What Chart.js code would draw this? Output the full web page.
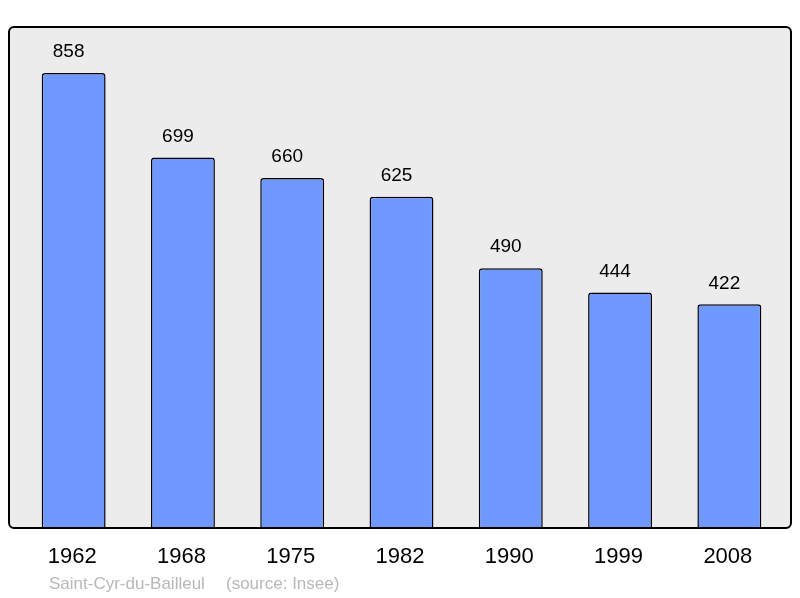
<!DOCTYPE html>
<html>
<head>
<meta charset="utf-8">
<script src="https://cdn.jsdelivr.net/npm/chart.js@4"></script>
<style>
  html, body { margin: 0; padding: 0; background: #fff; }
  #wrap { width: 800px; height: 598px; position: relative; }
</style>
</head>
<body>
<div id="wrap"><canvas id="chart-pop"></canvas></div>
<script>
// données
const annees = ['1962', '1968', '1975', '1982', '1990', '1999', '2008'];
const population = [858, 699, 660, 625, 490, 444, 422];
const commune = 'Saint-Cyr-du-Bailleul';
const source = '(source: Insee)';

const FONT = '"Liberation Sans", Arial, sans-serif';

// fond gris + cadre arrondi, étiquettes
const decor = {
  id: 'decor',
  beforeDraw(chart) {
    const ctx = chart.ctx;
    ctx.save();
    ctx.beginPath();
    ctx.roundRect(9, 27, 782, 501, 5);
    ctx.fillStyle = '#ececec';
    ctx.fill();
    ctx.restore();
  },
  afterDatasetsDraw(chart) {
    const ctx = chart.ctx;
    const xs = chart.scales.x, ys = chart.scales.y;
    ctx.save();
    ctx.beginPath();
    ctx.roundRect(9, 27, 782, 501, 5);
    ctx.lineWidth = 2;
    ctx.strokeStyle = '#000';
    ctx.stroke();

    ctx.fillStyle = '#000';
    ctx.textAlign = 'center';
    ctx.textBaseline = 'middle';
    ctx.font = '19px ' + FONT;
    population.forEach((v, i) => {
      ctx.fillText(String(v), xs.getPixelForValue(i) - 5, ys.getPixelForValue(v) - 21);
    });
    ctx.font = '22px ' + FONT;
    annees.forEach((a, i) => {
      ctx.fillText(a, xs.getPixelForValue(i) - 1.5, 557);
    });
    ctx.fillStyle = '#b8b8b8';
    ctx.textAlign = 'left';
    ctx.font = '17px ' + FONT;
    ctx.fillText(commune, 49, 584);
    ctx.fillText(source, 226, 584);
    ctx.restore();
  }
};

new Chart(document.getElementById('chart-pop'), {
  type: 'bar',
  data: {
    labels: annees,
    datasets: [{
      data: population,
      backgroundColor: '#7099ff',
      borderColor: '#000',
      borderWidth: 1.5,
      borderSkipped: 'bottom',
      borderRadius: { topLeft: 3, topRight: 3 },
      barPercentage: 0.585,
      categoryPercentage: 1
    }]
  },
  options: {
    responsive: true,
    maintainAspectRatio: false,
    animation: false,
    layout: { padding: { left: 19, right: 16, top: 27, bottom: 70 } },
    plugins: { legend: { display: false }, tooltip: { enabled: false } },
    scales: {
      x: { display: false },
      y: { display: false, min: 0, max: 945 }
    }
  },
  plugins: [decor]
});
</script>
</body>
</html>
